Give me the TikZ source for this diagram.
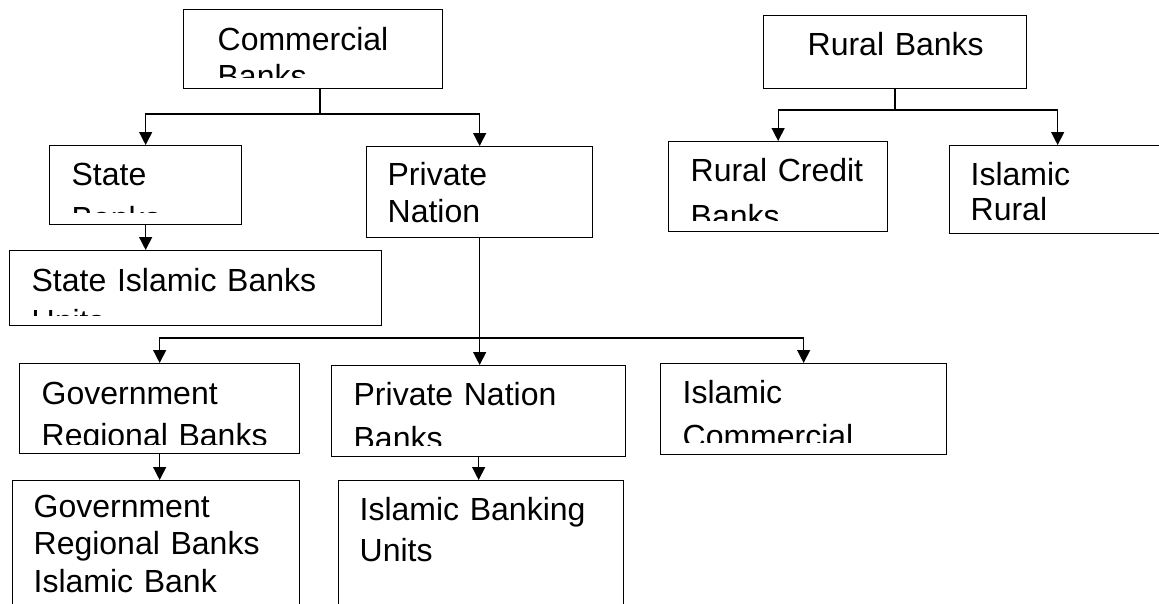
\documentclass[tikz,border=0pt]{standalone}
\usepackage{fontspec}
\setmainfont{Liberation Sans}
\usetikzlibrary{arrows.meta}

\begin{document}
\begin{tikzpicture}[>={Triangle[length=13pt,width=13pt]}, x=1pt, y=-1pt, line width=1.3pt,
        bank/.style={draw, anchor=north west, inner sep=0pt},
        banktext/.style={anchor=base west, inner sep=0pt, align=left, text width=360pt,
            font=\fontsize{32}{37.5}\selectfont}]
    \clip (0,0) rectangle (1159,603);
    \fill[white] (0,0) rectangle (1159,603);

    % Commercial Banks: top left
    \node[bank, minimum width=259pt, minimum height=79pt] (commercial) at (183,9) {};
    \begin{scope}
        \clip (183,9) rectangle (442,77);
        \node[banktext] (commercial-text) at (217,50) {Commercial\\Banks};
    \end{scope}

    % Rural Banks: top right
    \node[bank, minimum width=263pt, minimum height=73pt] (rural) at (763,15) {};
    \node[banktext] (rural-text) at (807,55) {Rural Banks};

    % State Banks
    \node[bank, minimum width=192pt, minimum height=79pt] (state) at (49,145) {};
    \begin{scope}
        \clip (49,145) rectangle (241,212);
        \node[banktext] (state-text) at (71,185) {State\\[6.5pt]Banks};
    \end{scope}

    % Private Nation
    \node[bank, minimum width=226pt, minimum height=91pt] (private) at (366,146) {};
    \node[banktext] (private-text) at (387,185) {Private\\Nation};

    % Rural Credit Banks
    \node[bank, minimum width=219pt, minimum height=90pt] (ruralcredit) at (668,141) {};
    \begin{scope}
        \clip (668,141) rectangle (887,220);
        \node[banktext] (ruralcredit-text) at (690,181) {Rural Credit\\[9pt]Banks};
    \end{scope}

    % Islamic Rural, cut by the right edge
    \node[bank, minimum width=216pt, minimum height=88pt] (islamicrural) at (949,145) {};
    \node[banktext] (islamicrural-text) at (970,185) {Islamic\\[-2pt]Rural};

    % State Islamic Banks Units
    \node[bank, minimum width=372pt, minimum height=75pt] (stateislamic) at (9,250) {};
    \begin{scope}
        \clip (9,250) rectangle (381,315);
        \node[banktext] (stateislamic-text) at (31,291) {State Islamic Banks\\[3.5pt]Units};
    \end{scope}

    % Government Regional Banks
    \node[bank, minimum width=280pt, minimum height=90pt] (govreg) at (19,363) {};
    \begin{scope}
        \clip (19,363) rectangle (299,444);
        \node[banktext] (govreg-text) at (41,404) {Government\\[4.5pt]Regional Banks};
    \end{scope}

    % Private Nation Banks
    \node[bank, minimum width=294pt, minimum height=91pt] (privnb) at (331,365) {};
    \begin{scope}
        \clip (331,365) rectangle (625,445);
        \node[banktext] (privnb-text) at (353,405) {Private Nation\\[7pt]Banks};
    \end{scope}

    % Islamic Commercial
    \node[bank, minimum width=286pt, minimum height=91pt] (islcom) at (660,363) {};
    \begin{scope}
        \clip (660,363) rectangle (946,442);
        \node[banktext] (islcom-text) at (682,403) {Islamic\\[6.5pt]Commercial};
    \end{scope}

    % bottom row, cut by the lower edge
    \node[bank, minimum width=287pt, minimum height=140pt] (govisl) at (12,480) {};
    \node[banktext] (govisl-text) at (33,517) {Government\\Regional Banks\\Islamic Bank};
    \node[bank, minimum width=285pt, minimum height=140pt] (islunits) at (338,480) {};
    \node[banktext] (islunits-text) at (359,520) {Islamic Banking\\[4pt]Units};

    % connectors
    \coordinate (cbr) at (320,114);
    \draw (commercial.south -| cbr) -- (cbr);
    \draw[->] (cbr) -| (state.north);
    \draw[->] (cbr) -| (private.north);

    \coordinate (rbr) at (895,110);
    \draw (rural.south -| rbr) -- (rbr);
    \draw[->] (rbr) -| (ruralcredit.north);
    \draw[->] (rbr) -| (islamicrural.north);

    \draw[->] (state.south) -- (state.south |- stateislamic.north);

    \draw[->] (private.south) -- (private.south |- privnb.north);
    \coordinate (pbr) at (479,338);
    \draw[->] (pbr) -| (govreg.north);
    \draw[->] (pbr) -| (islcom.north);

    \draw[->] (govreg.south) -- (govreg.south |- govisl.north);
    \draw[->] (privnb.south) -- (privnb.south |- islunits.north);
\end{tikzpicture}
\end{document}
